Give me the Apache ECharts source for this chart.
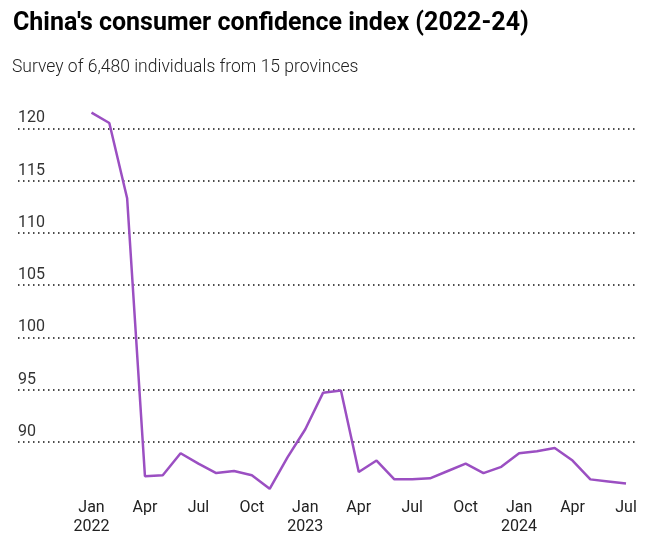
<!DOCTYPE html>
<html>
<head>
<meta charset="utf-8">
<script src="https://cdn.jsdelivr.net/npm/echarts@6/dist/echarts.min.js"></script>
<style>html,body{margin:0;padding:0;background:#fff}#c{width:669px;height:554px}</style>
</head>
<body>
<div id="c"></div>
<script>
const months = ['Jan','Feb','Mar','Apr','May','Jun','Jul','Aug','Sep','Oct','Nov','Dec'];
const categories = [
  '2022-01','2022-02','2022-03','2022-04','2022-05','2022-06','2022-07','2022-08','2022-09','2022-10','2022-11','2022-12',
  '2023-01','2023-02','2023-03','2023-04','2023-05','2023-06','2023-07','2023-08','2023-09','2023-10','2023-11','2023-12',
  '2024-01','2024-02','2024-03','2024-04','2024-05','2024-06','2024-07'
];
const confidence = [
  121.5, 120.5, 113.3, 86.7, 86.8, 88.9, 87.9, 87.0, 87.2, 86.8, 85.5, 88.5,
  91.2, 94.7, 94.9, 87.1, 88.2, 86.4, 86.4, 86.5, 87.2, 87.9, 87.0, 87.6,
  88.9, 89.1, 89.4, 88.2, 86.4, 86.2, 86.0
];
const yTicks = [90, 95, 100, 105, 110, 115, 120];

const chart = echarts.init(document.getElementById('c'), null, {renderer: 'canvas'});
const yCommon = {type: 'value', min: 85, max: 125, interval: 5};
chart.setOption({
  animation: false,
  title: [
    {text: "China's consumer confidence index (2022-24)", left: 8, top: 6,
     textStyle: {fontFamily: 'Roboto, sans-serif', fontWeight: 'bold', fontSize: 25, color: '#000'}},
    {text: 'Survey of 6,480 individuals from 15 provinces', left: 7, top: 54,
     textStyle: {fontFamily: 'Roboto, sans-serif', fontWeight: 300, fontSize: 17.5, color: '#222'}}
  ],
  grid: [
    {left: 18, right: 31, top: 76, bottom: 60},
    {left: 91.5, right: 43, top: 76, bottom: 60}
  ],
  xAxis: [
    {gridIndex: 0, type: 'value', show: false, min: 0, max: 1},
    {gridIndex: 1, type: 'category', data: categories, boundaryGap: false,
     axisLine: {show: false}, axisTick: {show: false}, splitLine: {show: false},
     axisLabel: {interval: 2, margin: 4, fontFamily: 'Roboto', fontSize: 16, lineHeight: 19, color: '#222',
       formatter: function (v) {
         const p = v.split('-');
         const m = months[parseInt(p[1], 10) - 1];
         return m === 'Jan' ? m + '\n' + p[0] : m;
       }}}
  ],
  yAxis: [
    Object.assign({gridIndex: 0}, yCommon, {
      axisLine: {show: false}, axisTick: {show: false},
      axisLabel: {inside: true, margin: 0, align: 'left', verticalAlign: 'bottom', padding: [0, 0, 2, 0],
        fontFamily: 'Roboto', fontSize: 16, color: '#333',
        formatter: function (v) { return yTicks.indexOf(v) >= 0 ? String(v) : ''; }},
      splitLine: {show: true, showMinLine: false, showMaxLine: false,
        lineStyle: {color: '#111', width: 1.5, type: [1.5, 3.5]}}
    }),
    Object.assign({gridIndex: 1}, yCommon, {show: false, splitLine: {show: false}})
  ],
  series: [{
    type: 'line', xAxisIndex: 1, yAxisIndex: 1, data: confidence,
    showSymbol: false, symbol: 'none',
    lineStyle: {color: '#9b4fc2', width: 2.5}
  }]
});
</script>
</body>
</html>
